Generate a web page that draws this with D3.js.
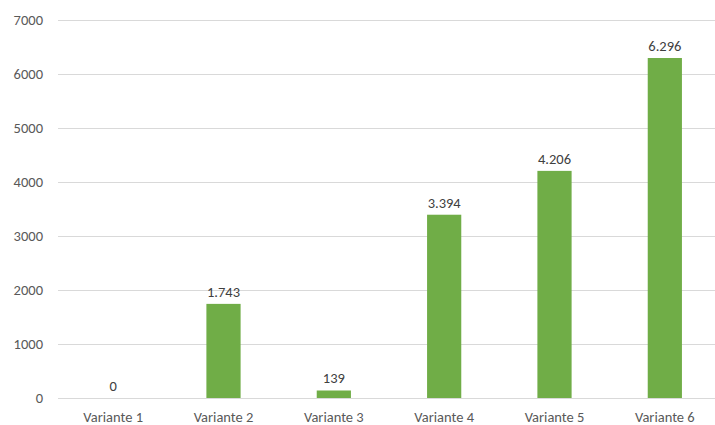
<!DOCTYPE html>
<html>
<head>
<meta charset="utf-8">
<script src="https://cdn.jsdelivr.net/npm/d3@7"></script>
<style>
  html, body { margin: 0; padding: 0; background: #fff; }
  svg text { font-family: Carlito, Lato, sans-serif; fill: #595959; }
</style>
</head>
<body>
<svg id="chart" width="715" height="425"></svg>
<script>
// Chart data
const categories = ["Variante 1", "Variante 2", "Variante 3", "Variante 4", "Variante 5", "Variante 6"];
const values = [0, 1743, 139, 3394, 4206, 6296];
const yTicks = [0, 1000, 2000, 3000, 4000, 5000, 6000, 7000];

(function draw() {
  const svg = d3.select("#chart");
  const plotLeft = 58, plotRight = 720, plotTop = 20, plotBottom = 398;
  const fontFamily = 'Carlito, Lato, sans-serif';
  const fontSize = 14.5;

  const x = d3.scaleBand().domain(categories).range([plotLeft, plotRight]).paddingInner(0.69).paddingOuter(0.345);
  const y = d3.scaleLinear().domain([0, 7000]).range([plotBottom, plotTop]);

  // Gridlines
  svg.append("g").selectAll("line").data(yTicks).join("line")
    .attr("x1", plotLeft).attr("x2", 715)
    .attr("y1", d => y(d) + 0.5).attr("y2", d => y(d) + 0.5)
    .attr("stroke", "#d9d9d9").attr("stroke-width", 1);

  // Y axis labels
  const yAxis = d3.axisLeft(y).tickValues(yTicks).tickSize(0).tickPadding(0).tickFormat(d3.format("d"));
  const gy = svg.append("g").attr("transform", "translate(43,0)").call(yAxis);
  gy.select(".domain").remove();
  gy.selectAll("text").attr("font-size", fontSize).attr("fill", "#595959").style("font-family", fontFamily);

  // X axis labels
  const xAxis = d3.axisBottom(x).tickSize(0).tickPadding(0);
  const gx = svg.append("g").attr("transform", `translate(0,${plotBottom})`).call(xAxis);
  gx.select(".domain").remove();
  gx.selectAll("text").attr("dy", null).attr("y", 24).attr("font-size", fontSize).attr("fill", "#595959")
    .style("font-family", fontFamily);

  // Bars
  svg.append("g").selectAll("rect").data(values).join("rect")
    .attr("x", (d, i) => x(categories[i]))
    .attr("width", x.bandwidth())
    .attr("y", d => y(d))
    .attr("height", d => plotBottom - y(d))
    .attr("fill", "#70ad47");

  // Value labels (German thousands separator)
  const fmt = d3.formatLocale({ decimal: ",", thousands: ".", grouping: [3], currency: ["", "€"] }).format(",d");
  svg.append("g").selectAll("text").data(values).join("text")
    .attr("x", (d, i) => x(categories[i]) + x.bandwidth() / 2)
    .attr("y", d => y(d) - 7)
    .attr("text-anchor", "middle")
    .attr("font-size", fontSize)
    .style("fill", "#404040")
    .style("font-family", fontFamily)
    .text(d => fmt(d));
})();
</script>
</body>
</html>
